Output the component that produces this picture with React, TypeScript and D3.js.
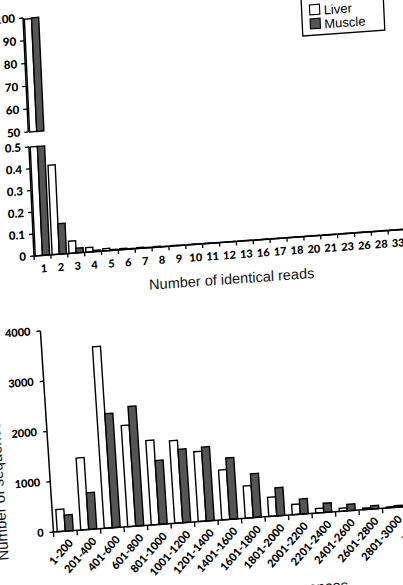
import React from 'react';
import * as d3 from 'd3';

// ---- Top chart data: distribution of identical reads (%)
const readCategories = ['1','2','3','4','5','6','7','8','9','10','11','12','13','16','17','18','20','21','23','26','28','33'];
const liverReads = [99.45, 0.41, 0.056, 0.021, 0.01, 0.005, 0.004, 0.003, 0.002, 0.002, 0.002, 0.001, 0.001, 0.001, 0.001, 0.001, 0.001, 0.001, 0.001, 0.001, 0.001, 0.001];
const muscleReads = [99.8, 0.14, 0.022, 0.006, 0.004, 0.002, 0.002, 0.001, 0.001, 0.001, 0.001, 0.001, 0.001, 0.001, 0.001, 0.001, 0.001, 0.001, 0.001, 0.001, 0.001, 0.001];

// ---- Bottom chart data: sequence length distribution
const lengthCategories = ['1-200','201-400','401-600','601-800','801-1000','1001-1200','1201-1400','1401-1600','1601-1800','1801-2000','2001-2200','2201-2400','2401-2600','2601-2800','2801-3000','>3000'];
const liverCounts = [440, 1430, 3610, 2010, 1680, 1640, 1390, 990, 640, 380, 205, 90, 60, 30, 20, 30];
const muscleCounts = [320, 730, 2270, 2380, 1270, 1460, 1470, 1220, 870, 560, 300, 185, 130, 65, 35, 50];

const seriesNames = ['Liver', 'Muscle'];
const seriesFill = ['#ffffff', '#555555'];

const tickFont = 'Lato, "Open Sans", sans-serif';
const titleFont = '"Liberation Sans", Arial, sans-serif';

export default function App() {
  // top chart scales (local coordinates, origin at axis corner)
  const xTop = d3.scaleBand<string>().domain(readCategories).range([0, 371]).paddingInner(0.15).paddingOuter(0.075);
  const xTopSub = d3.scaleBand<string>().domain(seriesNames).range([0, xTop.bandwidth()]);
  const yLow = d3.scaleLinear().domain([0, 0.5]).range([0, -109]);
  const yUp = d3.scaleLinear().domain([50, 100]).range([-124, -238]);
  const topStep = xTop.step();
  const topPad = (xTop.paddingInner() * topStep) / 2;
  const fmt = d3.format('~g');

  // bottom chart scales
  const xB = d3.scaleBand<string>().domain(lengthCategories).range([0, 376]).paddingInner(0.32).paddingOuter(0.16);
  const xBSub = d3.scaleBand<string>().domain(seriesNames).range([0, xB.bandwidth()]);
  const yB = d3.scaleLinear().domain([0, 4000]).range([0, -201]);
  const bStep = xB.step();
  const bPad = (xB.paddingInner() * bStep) / 2;

  const topSeries = [liverReads, muscleReads];
  const bottomSeries = [liverCounts, muscleCounts];

  return (
    <svg width={403} height={585} style={{ position: 'absolute', left: 0, top: 0, background: '#fff' }}>
      {/* ---------------- TOP CHART ---------------- */}
      <g transform="translate(34,256) matrix(1,-0.072,0.046,1,0,0)">
        {readCategories.map((c, i) =>
          topSeries.map((vals, s) => {
            const v = vals[i];
            const x = (xTop(c) as number) + (xTopSub(seriesNames[s]) as number);
            const w = xTopSub.bandwidth();
            const lowV = Math.min(v, 0.5);
            const els = [
              <rect key={`l${i}-${s}`} x={x} y={yLow(lowV)} width={w} height={-yLow(lowV)}
                fill={seriesFill[s]} stroke="#000" strokeWidth={1.4} />,
            ];
            if (v > 50) {
              const upV = Math.min(v, 100);
              els.push(
                <rect key={`u${i}-${s}`} x={x} y={yUp(upV)} width={w} height={yUp(50) - yUp(upV)}
                  fill={seriesFill[s]} stroke="#000" strokeWidth={1.4} />
              );
            }
            return els;
          })
        )}
        <line x1={0} x2={0} y1={yLow(0)} y2={yLow(0.5)} stroke="#000" strokeWidth={1.5} />
        <line x1={0} x2={0} y1={yUp(50)} y2={yUp(100)} stroke="#000" strokeWidth={1.5} />
        {yLow.ticks(5).map((t) => (
          <g key={`yl${t}`}>
            <line x1={-4} x2={0} y1={yLow(t)} y2={yLow(t)} stroke="#000" strokeWidth={1.3} />
            <text x={-8} y={yLow(t)} dy="0.35em" textAnchor="end" fontFamily={tickFont} fontWeight={900} fontSize={11.5}>{fmt(t)}</text>
          </g>
        ))}
        {yUp.ticks(5).map((t) => (
          <g key={`yu${t}`}>
            <line x1={-4} x2={0} y1={yUp(t)} y2={yUp(t)} stroke="#000" strokeWidth={1.3} />
            <text x={-8} y={yUp(t)} dy="0.35em" textAnchor="end" fontFamily={tickFont} fontWeight={900} fontSize={11.5}>{fmt(t)}</text>
          </g>
        ))}
        <line x1={0} x2={375} y1={0} y2={0} stroke="#000" strokeWidth={1.5} />
        {readCategories.map((c) => (
          <g key={`xt${c}`}>
            <line x1={(xTop(c) as number) - topPad} x2={(xTop(c) as number) - topPad} y1={0} y2={4} stroke="#000" strokeWidth={1.3} />
            <text x={(xTop(c) as number) + xTop.bandwidth() / 2 + 1} y={17} textAnchor="middle" fontFamily={tickFont} fontWeight={900} fontSize={11}>{c}</text>
          </g>
        ))}
        <text x={196} y={42} textAnchor="middle" fontFamily={titleFont} fontSize={14.5} fill="#111">Number of identical reads</text>
        {/* legend */}
        <rect x={278} y={-240} width={82} height={40} fill="#fff" stroke="#000" strokeWidth={1.3} />
        {seriesNames.map((n, s) => (
          <g key={`lg${n}`}>
            <rect x={286} y={-230.5 + s * 14} width={10} height={10} fill={seriesFill[s]} stroke="#000" strokeWidth={1.1} />
            <text x={300} y={-220 + s * 14} fontFamily={titleFont} fontSize={13} fill="#000">{n}</text>
          </g>
        ))}
      </g>

      {/* ---------------- BOTTOM CHART ---------------- */}
      <g transform="translate(53.5,532) matrix(1,-0.072,0.065,1,0,0)">
        {lengthCategories.map((c, i) =>
          bottomSeries.map((vals, s) => {
            const v = vals[i];
            const x = (xB(c) as number) + (xBSub(seriesNames[s]) as number);
            return (
              <rect key={`b${i}-${s}`} x={x} y={yB(v)} width={xBSub.bandwidth()} height={-yB(v)}
                fill={seriesFill[s]} stroke="#000" strokeWidth={1.4} />
            );
          })
        )}
        <line x1={0} x2={0} y1={yB(0)} y2={yB(4000)} stroke="#000" strokeWidth={1.5} />
        {yB.ticks(4).map((t) => (
          <g key={`yb${t}`}>
            <line x1={-4} x2={0} y1={yB(t)} y2={yB(t)} stroke="#000" strokeWidth={1.3} />
            <text x={-10} y={yB(t)} dy="0.35em" textAnchor="end" fontFamily={tickFont} fontWeight={900} fontSize={11}>{t}</text>
          </g>
        ))}
        <line x1={0} x2={380} y1={0} y2={0} stroke="#000" strokeWidth={1.5} />
        {lengthCategories.map((c) => {
          const cx = (xB(c) as number) + xB.bandwidth() / 2;
          return (
            <g key={`xb${c}`}>
              <line x1={(xB(c) as number) - bPad} x2={(xB(c) as number) - bPad} y1={0} y2={5} stroke="#000" strokeWidth={1.3} />
              <text transform={`translate(${cx + 5},10) rotate(-45)`} textAnchor="end" dy="0.35em"
                fontFamily={tickFont} fontWeight={900} fontSize={11}>{c}</text>
            </g>
          );
        })}
        <text transform="translate(-46.5,25) rotate(-90)" textAnchor="start" fontFamily={titleFont} fontSize={15} fill="#111">Number of sequences</text>
        <text x={290} y={79} textAnchor="end" fontFamily={titleFont} fontSize={15} fill="#111">Length of sequences</text>
      </g>
    </svg>
  );
}
